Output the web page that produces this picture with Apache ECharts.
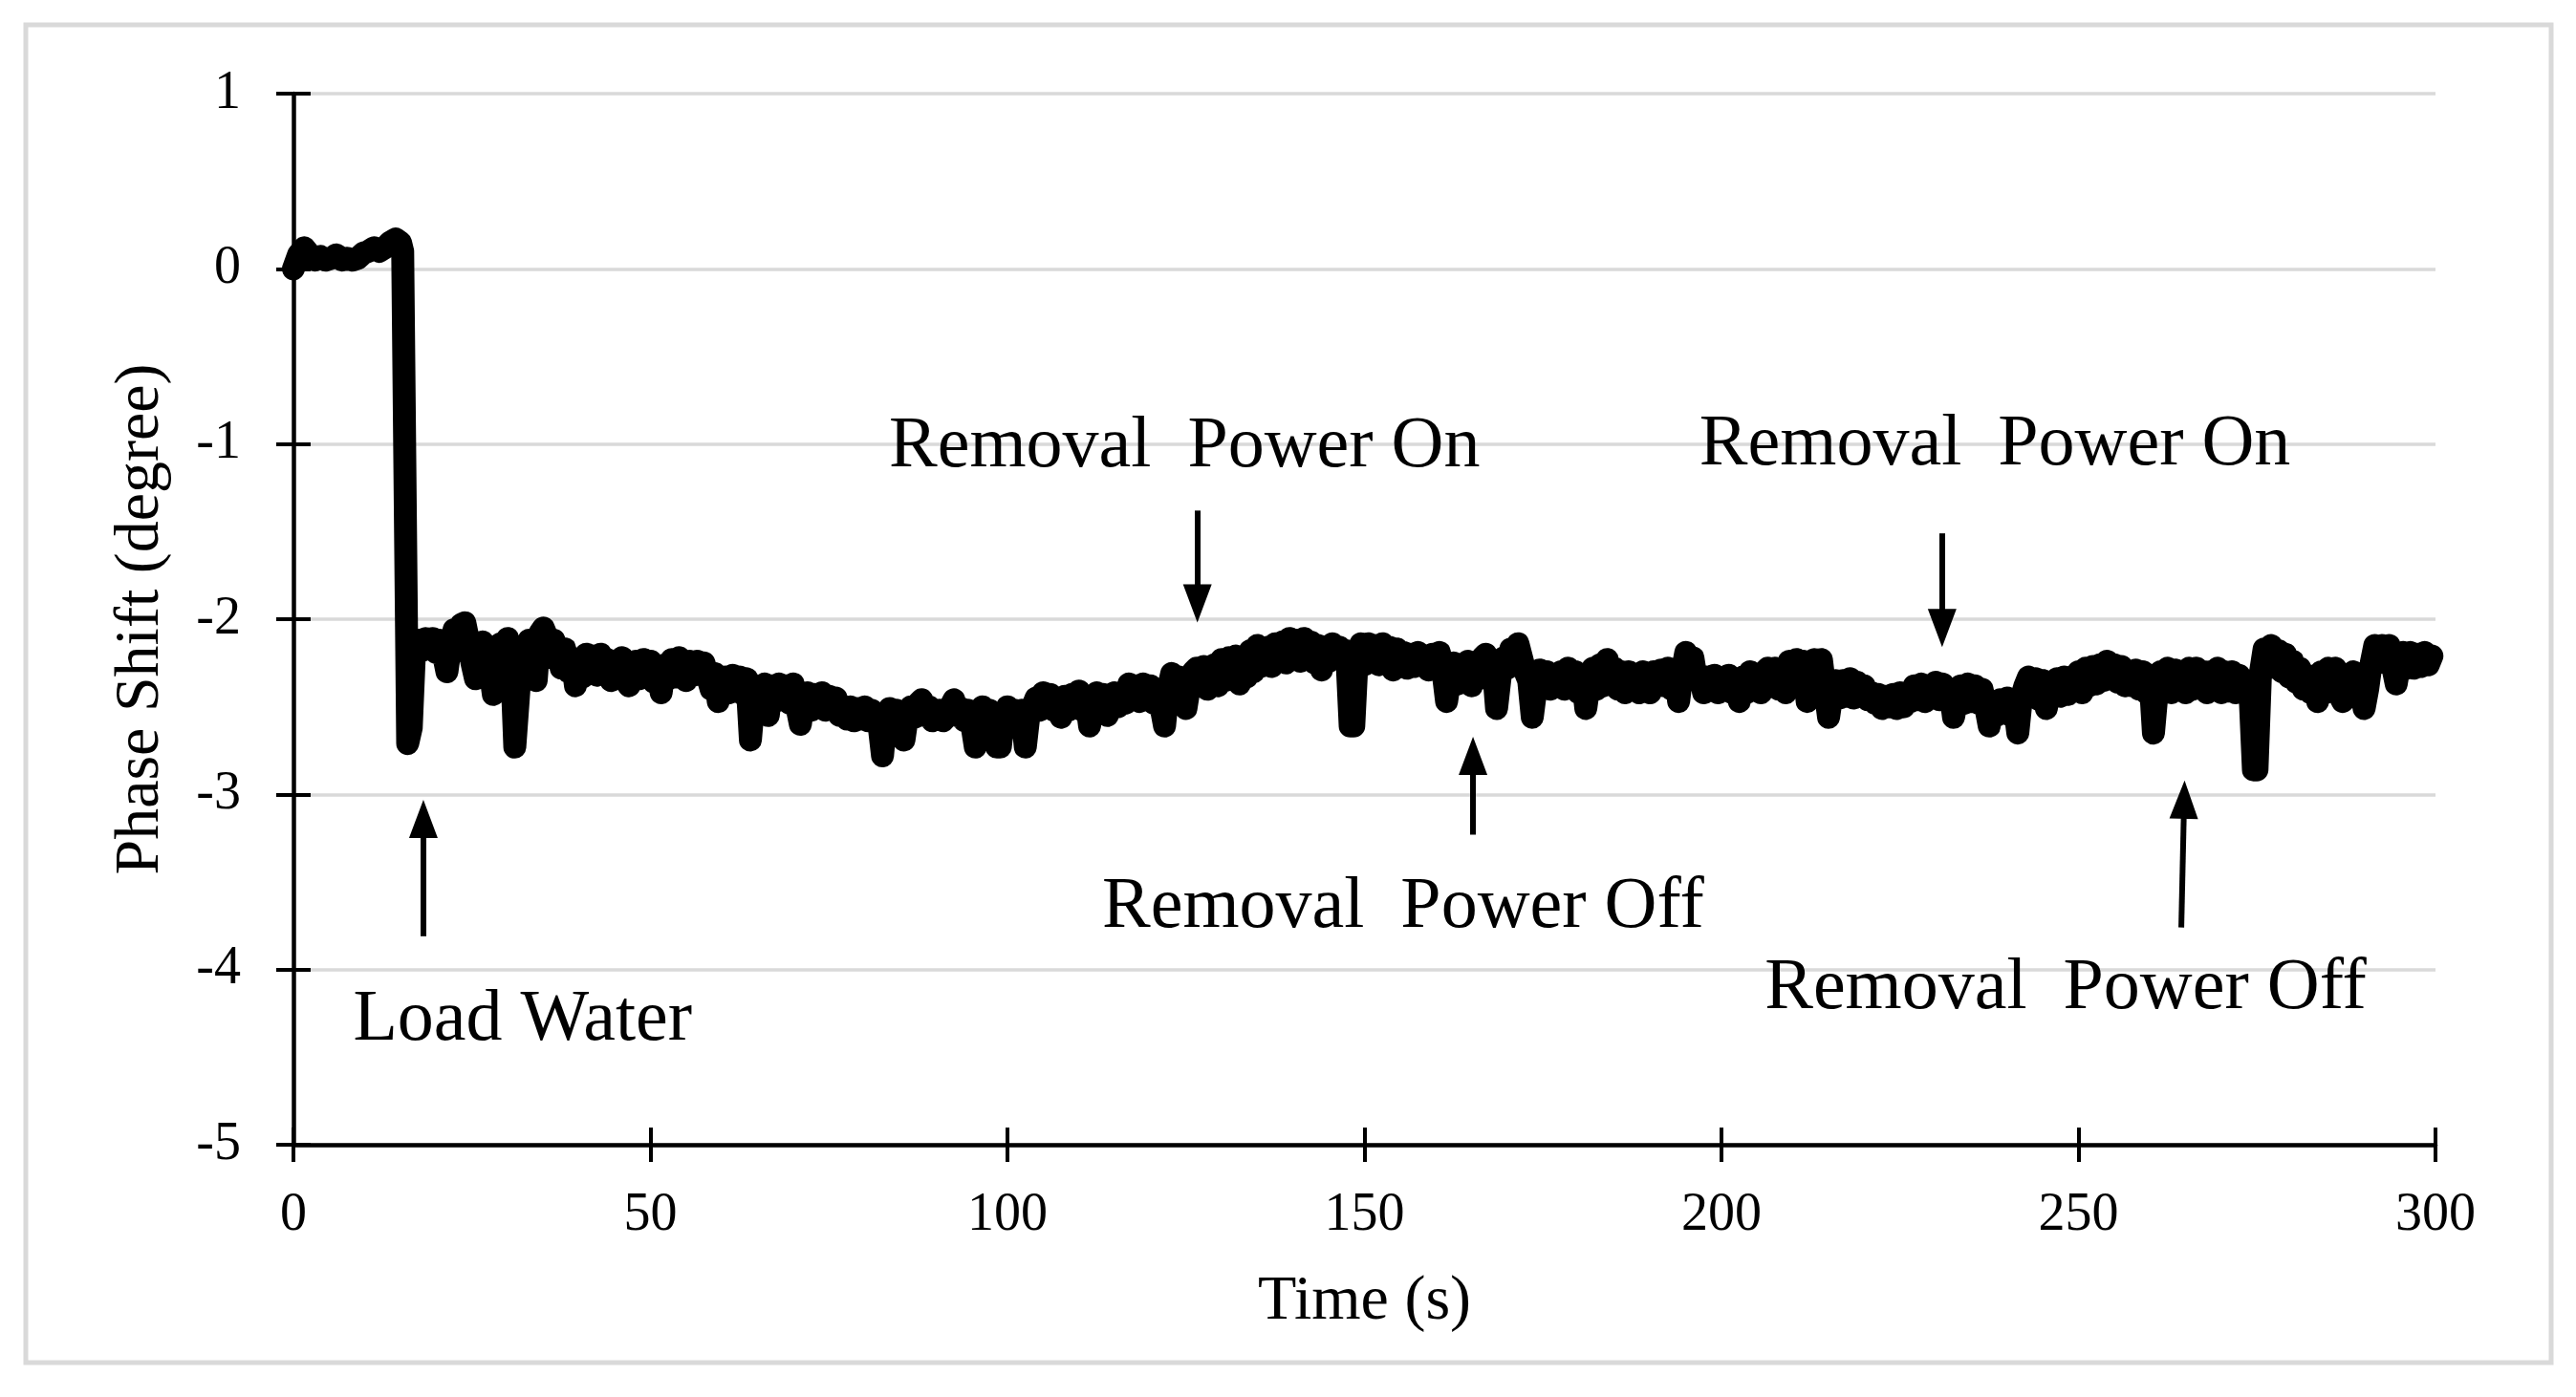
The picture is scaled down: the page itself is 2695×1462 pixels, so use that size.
<!DOCTYPE html>
<html>
<head>
<meta charset="utf-8">
<script src="https://cdn.jsdelivr.net/npm/echarts@6/dist/echarts.min.js"></script>
<style>
html,body{margin:0;padding:0;background:#fff;}
#chart{width:2695px;height:1462px;}
</style>
</head>
<body>
<div id="chart"></div>
<script>
// ---- data ----
// part 1: before and during water loading, irregular sample times
const timeEarly = [0,0.7,1.5,2.3,3.0,3.8,4.5,5.3,6.0,6.8,7.5,8.3,9.0,9.8,10.5,11.3,12.0,12.8,13.5,14.3,15.0,15.3,16.0,16.5];
const phaseEarly = [0.00,0.08,0.12,0.08,0.05,0.07,0.05,0.06,0.08,0.05,0.06,0.05,0.06,0.09,0.10,0.12,0.10,0.12,0.15,0.17,0.15,0.10,-2.71,-2.62];

// part 2: after loading, one sample every 0.5 s from 17.0 s to 299.5 s
const sampleStart = 17.0;
const sampleStep = 0.5;
const phaseLate = [
-2.14,-2.12,-2.18,-2.11,-2.16,-2.11,-2.19,-2.12,-2.20,-2.30,
-2.15,-2.06,-2.18,-2.03,-2.02,-2.12,-2.25,-2.34,-2.20,-2.13,
-2.16,-2.28,-2.43,-2.20,-2.14,-2.24,-2.11,-2.20,-2.73,-2.45,
-2.16,-2.25,-2.12,-2.30,-2.35,-2.08,-2.05,-2.10,-2.22,-2.12,
-2.18,-2.28,-2.17,-2.30,-2.22,-2.38,-2.25,-2.33,-2.20,-2.30,
-2.21,-2.32,-2.20,-2.30,-2.23,-2.35,-2.24,-2.33,-2.22,-2.35,
-2.38,-2.26,-2.24,-2.34,-2.23,-2.32,-2.24,-2.36,-2.30,-2.42,
-2.26,-2.34,-2.23,-2.33,-2.22,-2.30,-2.35,-2.24,-2.32,-2.24,
-2.30,-2.25,-2.33,-2.40,-2.31,-2.47,-2.36,-2.33,-2.42,-2.32,
-2.40,-2.33,-2.43,-2.34,-2.69,-2.45,-2.38,-2.48,-2.37,-2.55,
-2.38,-2.47,-2.37,-2.46,-2.38,-2.48,-2.37,-2.50,-2.60,-2.45,
-2.42,-2.52,-2.43,-2.50,-2.42,-2.52,-2.44,-2.50,-2.45,-2.55,
-2.50,-2.57,-2.50,-2.58,-2.51,-2.57,-2.50,-2.58,-2.52,-2.56,
-2.60,-2.78,-2.55,-2.51,-2.58,-2.52,-2.56,-2.69,-2.55,-2.50,
-2.56,-2.48,-2.46,-2.55,-2.50,-2.58,-2.55,-2.52,-2.58,-2.55,
-2.50,-2.46,-2.55,-2.51,-2.58,-2.52,-2.60,-2.73,-2.56,-2.50,
-2.58,-2.52,-2.60,-2.73,-2.73,-2.55,-2.50,-2.62,-2.52,-2.60,
-2.52,-2.73,-2.55,-2.50,-2.45,-2.52,-2.42,-2.50,-2.43,-2.52,
-2.45,-2.56,-2.44,-2.52,-2.43,-2.50,-2.41,-2.52,-2.45,-2.61,
-2.45,-2.42,-2.52,-2.43,-2.55,-2.43,-2.42,-2.50,-2.43,-2.48,
-2.37,-2.45,-2.38,-2.47,-2.37,-2.46,-2.38,-2.48,-2.40,-2.50,
-2.61,-2.40,-2.31,-2.42,-2.33,-2.45,-2.51,-2.38,-2.30,-2.28,
-2.38,-2.27,-2.40,-2.30,-2.26,-2.38,-2.23,-2.35,-2.22,-2.34,
-2.21,-2.37,-2.25,-2.33,-2.18,-2.30,-2.15,-2.27,-2.20,-2.16,
-2.27,-2.14,-2.22,-2.13,-2.25,-2.11,-2.20,-2.12,-2.24,-2.11,
-2.22,-2.13,-2.25,-2.15,-2.29,-2.16,-2.24,-2.14,-2.22,-2.16,
-2.24,-2.18,-2.61,-2.61,-2.20,-2.14,-2.26,-2.14,-2.22,-2.15,
-2.26,-2.14,-2.24,-2.16,-2.29,-2.17,-2.27,-2.19,-2.28,-2.20,
-2.27,-2.19,-2.26,-2.21,-2.29,-2.20,-2.27,-2.19,-2.30,-2.47,
-2.33,-2.25,-2.37,-2.26,-2.35,-2.24,-2.38,-2.28,-2.34,-2.22,
-2.20,-2.30,-2.25,-2.51,-2.33,-2.22,-2.28,-2.17,-2.26,-2.14,
-2.22,-2.30,-2.35,-2.56,-2.40,-2.29,-2.38,-2.30,-2.40,-2.32,
-2.38,-2.30,-2.40,-2.28,-2.38,-2.30,-2.42,-2.32,-2.51,-2.36,
-2.28,-2.40,-2.26,-2.38,-2.23,-2.36,-2.28,-2.40,-2.30,-2.42,
-2.30,-2.40,-2.33,-2.42,-2.30,-2.38,-2.42,-2.30,-2.38,-2.29,
-2.38,-2.28,-2.40,-2.30,-2.47,-2.30,-2.19,-2.28,-2.22,-2.35,
-2.32,-2.42,-2.33,-2.40,-2.32,-2.42,-2.34,-2.40,-2.32,-2.42,
-2.34,-2.47,-2.33,-2.42,-2.30,-2.40,-2.32,-2.42,-2.30,-2.28,
-2.38,-2.28,-2.40,-2.30,-2.42,-2.24,-2.37,-2.23,-2.36,-2.24,
-2.47,-2.30,-2.23,-2.38,-2.23,-2.40,-2.56,-2.42,-2.35,-2.45,
-2.35,-2.44,-2.34,-2.45,-2.36,-2.42,-2.38,-2.46,-2.42,-2.48,
-2.43,-2.51,-2.44,-2.50,-2.43,-2.51,-2.42,-2.50,-2.42,-2.47,
-2.38,-2.46,-2.37,-2.47,-2.38,-2.45,-2.36,-2.46,-2.37,-2.45,
-2.40,-2.56,-2.45,-2.38,-2.48,-2.37,-2.47,-2.38,-2.48,-2.40,
-2.50,-2.61,-2.48,-2.55,-2.46,-2.53,-2.45,-2.55,-2.48,-2.65,
-2.45,-2.38,-2.33,-2.44,-2.34,-2.46,-2.35,-2.51,-2.37,-2.44,
-2.34,-2.44,-2.33,-2.43,-2.33,-2.40,-2.30,-2.42,-2.28,-2.38,
-2.27,-2.37,-2.26,-2.35,-2.24,-2.34,-2.26,-2.36,-2.27,-2.38,
-2.30,-2.38,-2.29,-2.40,-2.30,-2.42,-2.32,-2.65,-2.42,-2.30,
-2.40,-2.28,-2.42,-2.29,-2.40,-2.30,-2.42,-2.28,-2.40,-2.28,
-2.38,-2.30,-2.42,-2.30,-2.40,-2.28,-2.42,-2.30,-2.41,-2.30,
-2.42,-2.32,-2.42,-2.35,-2.40,-2.86,-2.86,-2.30,-2.17,-2.28,
-2.15,-2.27,-2.18,-2.30,-2.20,-2.33,-2.24,-2.36,-2.28,-2.40,
-2.32,-2.42,-2.35,-2.47,-2.30,-2.42,-2.28,-2.40,-2.28,-2.43,
-2.47,-2.32,-2.44,-2.30,-2.45,-2.35,-2.51,-2.40,-2.25,-2.15,
-2.24,-2.15,-2.25,-2.15,-2.27,-2.37,-2.25,-2.19,-2.28,-2.19,
-2.28,-2.20,-2.27,-2.19,-2.26,-2.21
];

// annotation texts and their anchor points (data units)
const noteText = ['Load Water', 'Removal  Power On', 'Removal  Power Off', 'Removal  Power On', 'Removal  Power Off'];
const noteTime = [32.1, 124.8, 155.4, 238.3, 248.2];
const notePhase = [-4.29, -1.02, -3.65, -1.01, -4.11];

// arrows: from (tail) -> to (centre of the arrow head), data units
const arrowFromT = [18.2, 126.6, 165.2, 230.9, 264.4];
const arrowFromV = [-3.81, -1.38, -3.23, -1.51, -3.76];
const arrowToT   = [18.2, 126.6, 165.2, 230.9, 264.8];
const arrowToV   = [-3.14, -1.91, -2.78, -2.05, -3.03];

const xMin = 0, xMax = 300, xStep = 50;
const yMin = -5, yMax = 1, yStep = 1;

// ---- chart ----
const FONT = '"Liberation Serif", "Times New Roman", serif';
const seriesData = timeEarly.map((t, i) => [t, phaseEarly[i]])
  .concat(phaseLate.map((v, i) => [sampleStart + i * sampleStep, v]));
const notes = noteText.map((s, i) => ({
  coord: [noteTime[i], notePhase[i]],
  label: { formatter: s }
}));
const arrows = arrowFromT.map((t, i) => [
  { coord: [t, arrowFromV[i]] },
  { coord: [arrowToT[i], arrowToV[i]], symbol: 'triangle', symbolSize: [30, 40] }
]);

const chart = echarts.init(document.getElementById('chart'), null, { renderer: 'canvas' });

const baseX = { type: 'value', min: xMin, max: xMax, interval: xStep, position: 'bottom', gridIndex: 0 };
const baseY = { type: 'value', min: yMin, max: yMax, interval: yStep, position: 'left', gridIndex: 0 };

chart.setOption({
  animation: false,
  backgroundColor: '#ffffff',
  grid: { left: 307, right: 147, top: 98, bottom: 264, containLabel: false },
  graphic: [{
    type: 'rect',
    shape: { x: 27, y: 26, width: 2642, height: 1400 },
    style: { fill: 'none', stroke: '#d9d9d9', lineWidth: 5 },
    silent: true, z: -10
  }],
  xAxis: [
    Object.assign({}, baseX, {
      name: 'Time (s)',
      nameLocation: 'middle',
      nameGap: 132,
      nameTextStyle: { fontFamily: FONT, fontSize: 66, color: '#000' },
      axisLine: { show: true, onZero: false, lineStyle: { color: '#000', width: 4.5 } },
      axisTick: { show: true, inside: false, length: 18, lineStyle: { color: '#000', width: 4 } },
      axisLabel: { show: true, margin: 46, fontFamily: FONT, fontSize: 56, color: '#000' },
      splitLine: { show: false }
    }),
    Object.assign({}, baseX, {
      axisLine: { show: false, onZero: false },
      axisTick: { show: true, inside: true, length: 18, lineStyle: { color: '#000', width: 4 } },
      axisLabel: { show: false },
      splitLine: { show: false }
    })
  ],
  yAxis: [
    Object.assign({}, baseY, {
      name: 'Phase Shift (degree)',
      nameLocation: 'middle',
      nameGap: 126,
      nameRotate: 90,
      nameTextStyle: { fontFamily: FONT, fontSize: 66, color: '#000' },
      axisLine: { show: true, onZero: false, lineStyle: { color: '#000', width: 4.5 } },
      axisTick: { show: true, inside: false, length: 18, lineStyle: { color: '#000', width: 4 } },
      axisLabel: { show: true, margin: 55, fontFamily: FONT, fontSize: 56, color: '#000' },
      splitLine: { show: true, lineStyle: { color: '#d9d9d9', width: 3.5 } }
    }),
    Object.assign({}, baseY, {
      axisLine: { show: false, onZero: false },
      axisTick: { show: true, inside: true, length: 18, lineStyle: { color: '#000', width: 4 } },
      axisLabel: { show: false },
      splitLine: { show: false }
    })
  ],
  series: [{
    type: 'line',
    xAxisIndex: 0,
    yAxisIndex: 0,
    data: seriesData,
    showSymbol: false,
    symbol: 'none',
    smooth: false,
    lineStyle: { color: '#000', width: 24, join: 'round', cap: 'round' },
    silent: true,
    z: 3,
    markPoint: {
      silent: true,
      symbol: 'circle',
      symbolSize: 1,
      itemStyle: { color: 'rgba(0,0,0,0)' },
      label: {
        show: true, position: 'inside', color: '#000',
        fontFamily: FONT, fontSize: 76
      },
      data: notes
    },
    markLine: {
      silent: true,
      symbol: ['none', 'triangle'],
      symbolSize: 36,
      label: { show: false },
      lineStyle: { color: '#000', width: 6, type: 'solid' },
      itemStyle: { color: '#000' },
      emphasis: { disabled: true },
      data: arrows
    }
  }]
});
</script>
</body>
</html>
